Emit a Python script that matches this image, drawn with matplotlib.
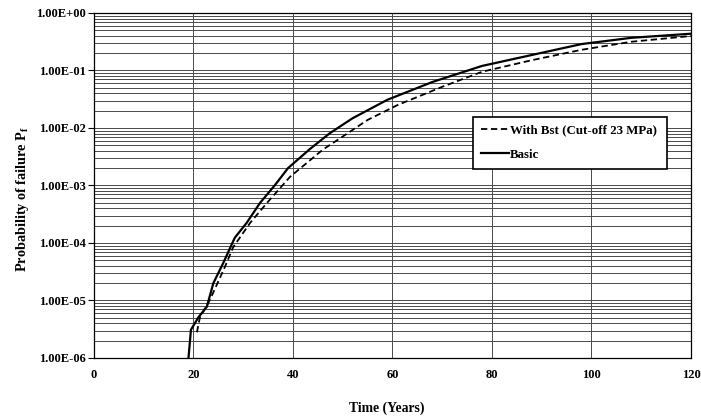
import matplotlib
matplotlib.use("Agg")
import matplotlib.pyplot as plt
from matplotlib.ticker import FixedLocator, LogLocator, NullFormatter

# Probability of failure over time, basic model and with Bst cut-off
years_basic = [19, 19.5, 21, 22.7, 24, 26, 28.3, 30.7, 33.4, 36.4, 39, 43.4,
               47.4, 52, 59, 68, 78, 88, 98, 108, 120]
pf_basic = [1.0e-6, 3.1e-6, 5.1e-6, 7.8e-6, 2.0e-5, 4.5e-5, 1.23e-4, 2.24e-4,
            5.0e-4, 1.02e-3, 2.0e-3, 4.3e-3, 8.1e-3, 1.48e-2, 3.1e-2, 6.3e-2,
            0.12, 0.186, 0.288, 0.37, 0.436]

years_bst = [20.7, 21.3, 23.3, 26.3, 28, 31.4, 34.8, 39.4, 46, 50, 55, 61,
             70, 78, 88, 98, 108, 120]
pf_bst = [2.8e-6, 5.1e-6, 1.02e-5, 3.8e-5, 8.5e-5, 2.24e-4, 5.0e-4, 1.41e-3,
          4.2e-3, 7.1e-3, 1.38e-2, 2.5e-2, 5.2e-2, 9.5e-2, 0.151, 0.229,
          0.316, 0.398]

x_ticks = [0, 20, 40, 60, 80, 100, 120]
y_ticks = [1e-6, 1e-5, 1e-4, 1e-3, 1e-2, 1e-1, 1e0]
y_labels = ["1.00E-06", "1.00E-05", "1.00E-04", "1.00E-03", "1.00E-02",
            "1.00E-01", "1.00E+00"]

plt.rcParams['font.family'] = ['Liberation Serif', 'DejaVu Serif']
plt.rcParams['font.weight'] = 'bold'
plt.rcParams['mathtext.fontset'] = 'custom'
plt.rcParams['mathtext.rm'] = 'Liberation Serif:bold'
plt.rcParams['mathtext.it'] = 'Liberation Serif:bold'

fig = plt.figure(figsize=(7.01, 4.19), dpi=100)
ax = fig.add_axes([0.134, 0.1456, 0.8517, 0.8234])

ax.plot(years_bst, pf_bst, color='black', lw=1.3, ls=(0, (3.5, 2)),
        label='With Bst (Cut-off 23 MPa)')
ax.plot(years_basic, pf_basic, color='black', lw=1.6, label='Basic')

ax.set_yscale('log')
ax.set_xlim(0, 120)
ax.set_ylim(1e-6, 1)

ax.xaxis.set_major_locator(FixedLocator(x_ticks))
ax.set_xticklabels([str(t) for t in x_ticks], fontsize=9, fontweight='bold')
ax.yaxis.set_major_locator(FixedLocator(y_ticks))
ax.set_yticklabels(y_labels, fontsize=9, fontweight='bold')
ax.yaxis.set_minor_locator(LogLocator(base=10, subs=range(2, 10)))
ax.yaxis.set_minor_formatter(NullFormatter())

ax.tick_params(axis='x', length=0, pad=8)
ax.tick_params(axis='y', which='major', length=4, width=0.8, pad=2)
ax.tick_params(axis='y', which='minor', length=0)

ax.grid(True, which='major', axis='both', color='#4a4a4a', lw=0.7)
ax.grid(True, which='minor', axis='y', color='#4a4a4a', lw=0.7)
ax.set_axisbelow(True)

for side in ['left', 'bottom', 'right', 'top']:
    ax.spines[side].set_color('black')
    ax.spines[side].set_linewidth(0.9)

ax.set_xlabel('Time (Years)', fontsize=9.8, fontweight='bold')
ax.xaxis.set_label_coords(0.491, -0.127)
ax.set_ylabel(r'Probability of failure P$_{\mathrm{f}}$', fontsize=10.3,
              fontweight='bold')
ax.yaxis.set_label_coords(-0.105, 0.46)

leg = ax.legend(loc='upper left', bbox_to_anchor=(0.635, 0.545, 0.325, 0.154),
                mode='expand', fontsize=9.3, frameon=True, fancybox=False,
                handlelength=2.2, handletextpad=0.05, borderpad=0.6,
                labelspacing=0.95, borderaxespad=0)
leg.get_frame().set_edgecolor('black')
leg.get_frame().set_linewidth(1.2)
leg.get_frame().set_facecolor('white')
leg.get_frame().set_alpha(1)

fig.savefig('out.png', dpi=100)
